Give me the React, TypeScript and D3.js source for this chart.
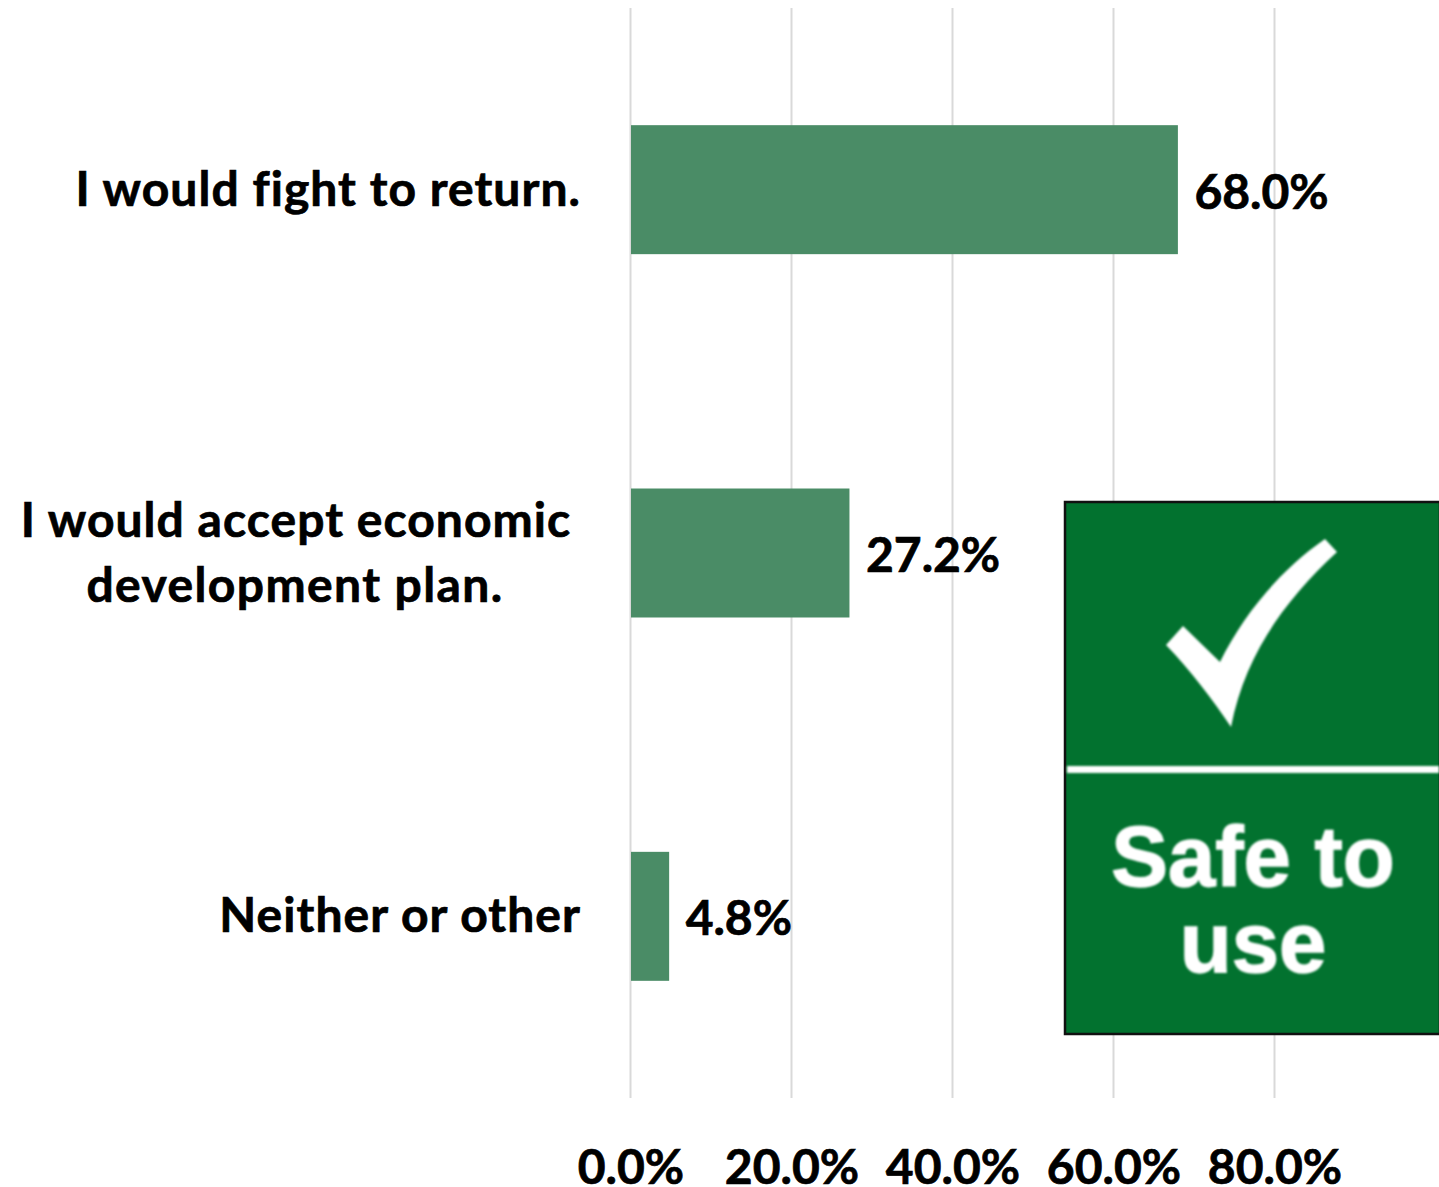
import React from "react";
import * as d3 from "d3";

const categories = ["I would fight to return.", "I would accept economic|development plan.", "Neither or other"];
const values = [68.0, 27.2, 4.8];
const ticks = [0, 20, 40, 60, 80];
const labelFont = "Lato, 'Open Sans', sans-serif";

const W = 1439, H = 1187;
const x = d3.scaleLinear().domain([0, 80]).range([630.5, 1274.5]);
const y = d3.scaleBand().domain(categories).range([8, 1098]).paddingInner(0.645).paddingOuter(0.3225);
const pct = (v: number) => d3.format(".1f")(v) + "%";

const labelRight = [581, 570, 581];
const labelBase = [206, 537, 932];

export default function App() {
  return (
    <svg width={W} height={H} viewBox={`0 0 ${W} ${H}`} style={{ position: "fixed", left: 0, top: 0, display: "block", background: "#fff" }}>
      <defs>
        <filter id="soft" x="-5%" y="-5%" width="110%" height="110%"><feGaussianBlur stdDeviation="0.9" /></filter>
      </defs>
      {ticks.map((t) => (
        <line key={t} x1={x(t)} x2={x(t)} y1={8} y2={1098} stroke="#d9d9d9" strokeWidth={2} />
      ))}
      {categories.map((c, i) => (
        <rect key={c} x={x(0) + 0.5} y={y(c)} width={x(values[i]) - x(0) - 0.5} height={y.bandwidth()} fill="#4a8c66" />
      ))}
      <g fontFamily={labelFont} fontWeight={700} fontSize={48} fill="#000" stroke="#000" strokeWidth={0.7} style={{ fontVariantLigatures: "none" }}>
        {categories.map((c, i) => {
          const lines = c.split("|");
          return lines.map((l, j) => (
            <text key={l} x={lines.length > 1 ? (j === 0 ? 296 : 295) : labelRight[i]} y={labelBase[i] + j * 64.5}
              letterSpacing={j === 1 ? 1.4 : 1.05}
              textAnchor={lines.length > 1 ? "middle" : "end"}>{l}</text>
          ));
        })}
        {categories.map((c, i) => (
          <text key={c} x={x(values[i]) + 16.5} y={y(c)! + y.bandwidth() / 2 + 19}>{pct(values[i])}</text>
        ))}
        {ticks.map((t) => (
          <text key={t} x={x(t) + 0.5} y={1184} textAnchor="middle">{pct(t)}</text>
        ))}
      </g>
      <g>
        <rect x={1065} y={502} width={375} height={532} fill="#02722f" stroke="#111" strokeWidth={2.5} />
        <g filter="url(#soft)">
          <rect x={1067} y={766} width={372} height={7} fill="#fff" />
          <path d="M1166 645 L1183 626 L1220 662 C1243 615 1280 570 1325 539 L1337 552 C1285 600 1245 655 1231 727 C1213 700 1190 670 1166 645 Z" fill="#fff" />
          <g fontFamily="'Liberation Sans', Arial, sans-serif" fontWeight={700} fontSize={85} fill="#fff" stroke="#fff" strokeWidth={1.5} textAnchor="middle">
            <text x={1253} y={886}>Safe to</text>
            <text x={1253} y={972}>use</text>
          </g>
        </g>
      </g>
    </svg>
  );
}
